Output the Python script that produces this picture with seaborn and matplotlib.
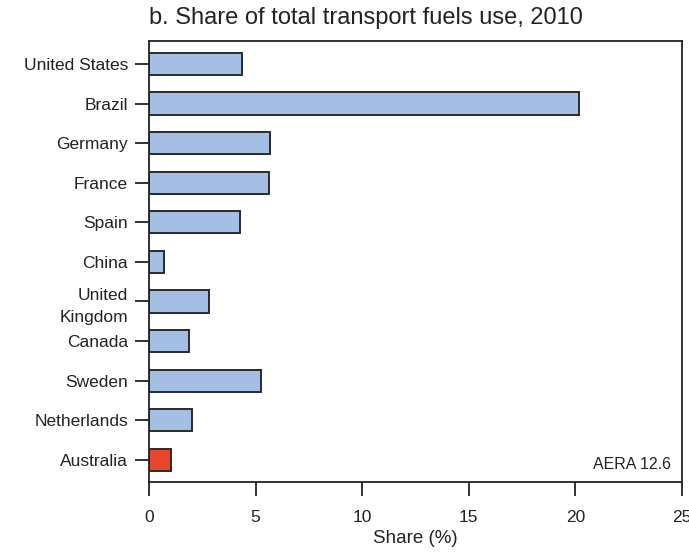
import matplotlib
matplotlib.use("Agg")
import matplotlib.pyplot as plt
import seaborn as sns
import pandas as pd

countries = ["United States", "Brazil", "Germany", "France", "Spain", "China",
             "United\nKingdom", "Canada", "Sweden", "Netherlands", "Australia"]
shares = [4.36, 20.17, 5.69, 5.61, 4.28, 0.69, 2.81, 1.86, 5.25, 2.03, 1.02]
groups = ["other"] * 10 + ["Australia"]
palette = {"other": "#a3c0e4", "Australia": "#e8442e"}

sns.set_theme(style="white")
plt.rcParams["font.family"] = ["Liberation Sans", "DejaVu Sans"]

df = pd.DataFrame({"country": countries, "share": shares, "group": groups})

fig = plt.figure(figsize=(6.89, 5.55), dpi=100)
ax = fig.add_axes([149/689, 1-482/555, (682-149)/689, (482-41)/555])
sns.barplot(data=df, x="share", y="country", hue="group", palette=palette,
            orient="h", width=0.56, edgecolor="#2a2a2a", linewidth=1.4,
            legend=False, ax=ax, saturation=1)
ax.set_xlim(0, 25)
ax.set_ylim(10.56, -0.58)
ax.set_xticks([0, 5, 10, 15, 20, 25])
ax.tick_params(axis="both", direction="out", length=10, width=1.3, color="#222222",
               labelsize=12.5, labelcolor="#222222", bottom=True, left=True)
ax.tick_params(axis="y", pad=5)
ax.tick_params(axis="x", pad=10)
for lbl in ax.get_yticklabels():
    lbl.set_linespacing(1.55)
for s in ax.spines.values():
    s.set_color("#222222")
    s.set_linewidth(1.3)
ax.set_ylabel("")
ax.set_xlabel("Share (%)", fontsize=13.5, color="#222222", labelpad=4)
fig.text(149/689, 1-18/555, "b. Share of total transport fuels use, 2010",
         fontsize=17, ha="left", va="center", color="#222222")
ax.text(0.98, 0.04, "AERA 12.6", transform=ax.transAxes, ha="right", va="center",
        fontsize=11.5, color="#222222")
fig.savefig("out.png", dpi=100)
